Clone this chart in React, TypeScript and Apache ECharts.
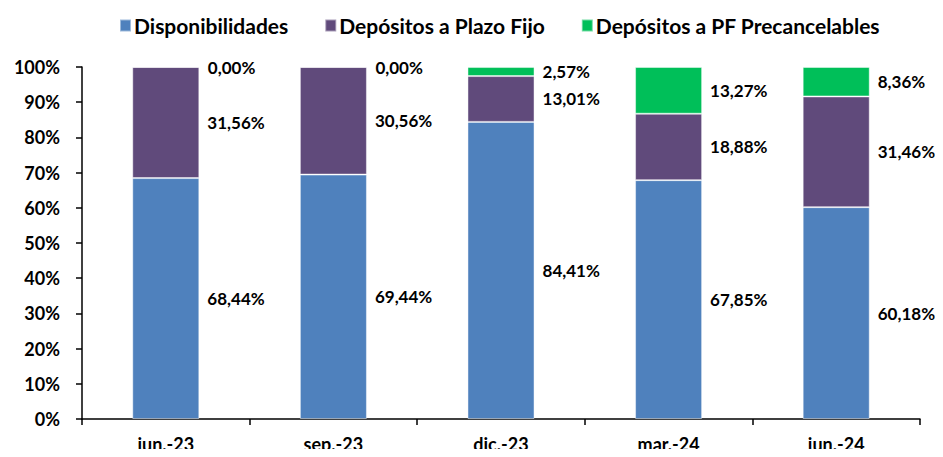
import React, { useEffect, useRef } from "react";
import * as echarts from "echarts";

const categories = ["jun.-23", "sep.-23", "dic.-23", "mar.-24", "jun.-24"];
const seriesNames = ["Disponibilidades", "Depósitos a Plazo Fijo", "Depósitos a PF Precancelables"];
const disponibilidades = [68.44, 69.44, 84.41, 67.85, 60.18];
const plazoFijo = [31.56, 30.56, 13.01, 18.88, 31.46];
const precancelables = [0.0, 0.0, 2.57, 13.27, 8.36];
const yTicks = [0, 10, 20, 30, 40, 50, 60, 70, 80, 90, 100];

const colors = ["#4F81BD", "#604A7B", "#00BF59"];
const FONT = "Lato";

export default function App() {
  const ref = useRef<HTMLDivElement>(null);
  useEffect(() => {
    if (!ref.current) return;
    const chart = echarts.init(ref.current, null, { renderer: "svg" });
    const fmt = (p: any) => (p.value as number).toFixed(2).replace(".", ",") + "%";
    const mk = (name: string, data: number[], color: string) => ({
      name,
      type: "bar",
      stack: "total",
      data,
      barWidth: "40%",
      itemStyle: { color, borderColor: "rgba(255,255,255,0.45)", borderWidth: 1 },
      label: {
        show: true,
        position: "right",
        distance: 8,
        formatter: fmt,
        color: "#000",
        fontFamily: FONT,
        fontWeight: "bold",
        fontSize: 17,
      },
    });
    chart.setOption({
      animation: false,
      color: colors,
      textStyle: { fontFamily: FONT },
      legend: {
        top: 10,
        left: 114,
        itemWidth: 11,
        itemHeight: 12,
        itemGap: 36,
        icon: "rect",
        textStyle: { fontFamily: FONT, fontWeight: "bold", fontSize: 21, color: "#000", padding: [0, 0, 0, -2] },
        data: seriesNames,
      },
      grid: { left: 82, right: 23, top: 67, bottom: 38, containLabel: false },
      xAxis: {
        type: "category",
        data: categories,
        axisLine: { lineStyle: { color: "#000", width: 1.5 } },
        axisTick: { show: true, length: 6, lineStyle: { color: "#000", width: 1.5 } },
        axisLabel: { fontFamily: FONT, fontWeight: "bold", fontSize: 18, color: "#000", margin: 16 },
      },
      yAxis: {
        type: "value",
        min: yTicks[0],
        max: yTicks[yTicks.length - 1],
        interval: 10,
        splitLine: { show: false },
        axisLine: { show: true, lineStyle: { color: "#000", width: 1.5 } },
        axisTick: { show: true, length: 6, lineStyle: { color: "#000", width: 1.5 } },
        axisLabel: {
          formatter: "{value}%",
          fontFamily: FONT,
          fontWeight: "bold",
          fontSize: 18,
          color: "#000",
          margin: 22,
        },
      },
      series: [
        mk(seriesNames[0], disponibilidades, colors[0]),
        mk(seriesNames[1], plazoFijo, colors[1]),
        mk(seriesNames[2], precancelables, colors[2]),
      ],
    });
    return () => chart.dispose();
  }, []);
  return <div ref={ref} style={{ width: 943, height: 457, margin: -8 }} />;
}
